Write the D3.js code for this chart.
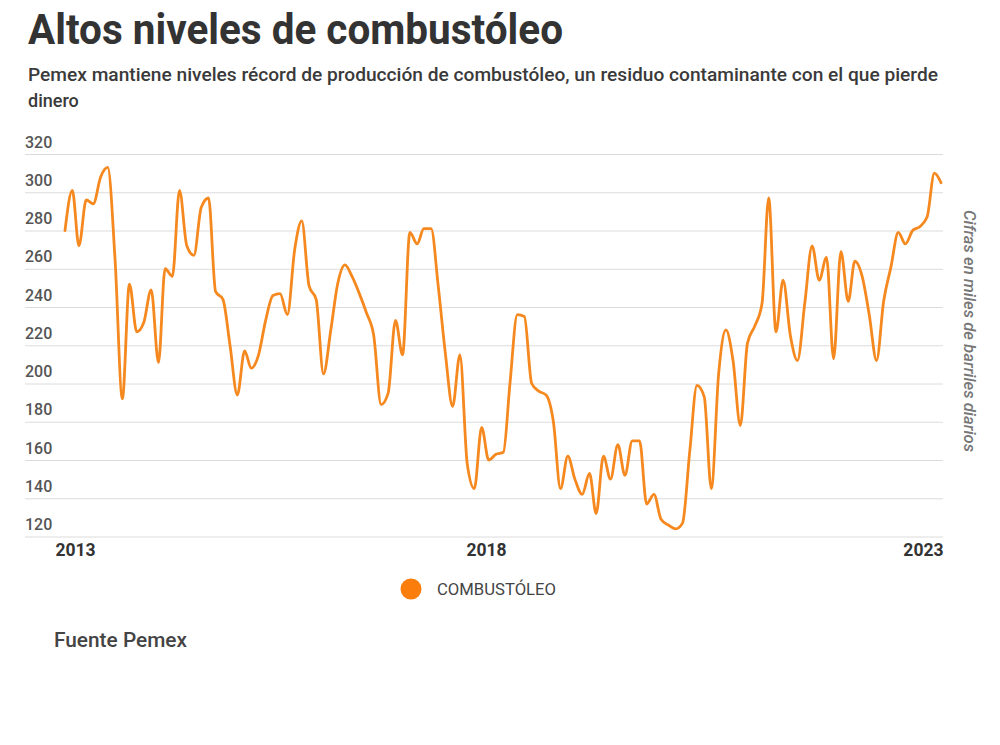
<!DOCTYPE html>
<html><head><meta charset="utf-8">
<script src="https://cdn.jsdelivr.net/npm/d3@7/dist/d3.min.js"></script>
<style>
body{margin:0;background:#fff;}
svg{display:block;font-family:Roboto,"Noto Sans",sans-serif;}
</style>
</head><body>
<svg id="chart" width="1000" height="745"></svg>
<script>
// ---- data ----
const title = "Altos niveles de combustóleo";
const subtitleLines = ["Pemex mantiene niveles récord de producción de combustóleo, un residuo contaminante con el que pierde", "dinero"];
const seriesName = "COMBUSTÓLEO";
const yAxisNote = "Cifras en miles de barriles diarios";
const source = "Fuente Pemex";
const firstMonth = "2013-01";  // monthly series, Jan 2013 – Mar 2023
const values = [
  280,301,272,296,294,308,313,265,192,252,227,232,   // 2013
  249,211,260,256,301,272,267,292,297,248,244,220,   // 2014
  194,217,208,215,233,246,247,236,270,285,251,244,   // 2015
  205,228,252,262,256,247,237,225,189,195,233,215,   // 2016
  279,273,281,281,251,215,188,215,158,145,177,160,   // 2017
  163,164,200,236,235,200,196,194,180,145,162,150,   // 2018
  142,153,132,162,150,168,152,170,170,137,142,129,   // 2019
  126,124,127,165,199,193,145,205,228,212,178,221,   // 2020
  230,242,297,227,254,225,212,242,272,254,266,213,   // 2021
  269,243,264,256,236,212,243,261,279,273,280,282,   // 2022
  287,310,305                                        // 2023
];
const yTicks = [120,140,160,180,200,220,240,260,280,300,320];
const xTickYears = [2013, 2018, 2023];

// ---- drawing ----
const svg = d3.select("#chart");
const parseMonth = d3.timeParse("%Y-%m");
const start = parseMonth(firstMonth);
const data = values.map((v, i) => ({date: d3.timeMonth.offset(start, i), value: v}));

const gridLeft = 25, gridRight = 943;
const x = d3.scaleTime()
  .domain(d3.extent(data, d => d.date))
  .range([65, 941]);
const y = d3.scaleLinear().domain([120, 320]).range([536.5, 154]);

// title
svg.append("text")
  .attr("x", 28).attr("y", 44)
  .attr("font-size", 42).attr("font-weight", 700).attr("fill", "#333")
  .attr("textLength", 535).attr("lengthAdjust", "spacingAndGlyphs")
  .text(title);

svg.selectAll("text.sub").data(subtitleLines).join("text")
  .attr("class", "sub")
  .attr("x", 28).attr("y", (d, i) => 81 + i * 26)
  .attr("font-size", 18).attr("font-weight", 500).attr("fill", "#3a3a3a")
  .each(function(d, i){ if (i === 0) d3.select(this).attr("textLength", 910).attr("lengthAdjust", "spacingAndGlyphs"); })
  .text(d => d);

// y grid + labels
const yAxis = svg.append("g")
  .attr("transform", `translate(${gridLeft},0)`)
  .call(d3.axisRight(y).tickValues(yTicks).tickSize(gridRight - gridLeft).tickFormat(d3.format("d")));
yAxis.select(".domain").remove();
yAxis.selectAll(".tick line").attr("stroke", "#dcdcdc").attr("stroke-width", 1);
yAxis.selectAll(".tick text")
  .attr("x", 0).attr("dy", -7).attr("text-anchor", "start")
  .attr("font-family", "Roboto, sans-serif")
  .attr("font-size", 16).attr("font-weight", 500).attr("fill", "#555");

// x labels
const xAxis = svg.append("g")
  .attr("transform", "translate(0,535)")
  .call(d3.axisBottom(x)
    .tickValues(xTickYears.map(yr => new Date(yr, 0, 1)))
    .tickSize(0)
    .tickFormat(d3.timeFormat("%Y")));
xAxis.select(".domain").remove();
xAxis.selectAll(".tick text")
  .attr("font-family", "Roboto, sans-serif")
  .attr("font-size", 17.5).attr("font-weight", 700).attr("fill", "#333")
  .attr("dy", "1.05em")
  .attr("text-anchor", (d, i, n) => i === 0 ? "start" : (i === n.length - 1 ? "end" : "middle"))
  .attr("dx", (d, i, n) => i === 0 ? -10 : (i === n.length - 1 ? (gridRight - x(d)) : -10));

// line
const line = d3.line().x(d => x(d.date)).y(d => y(d.value)).curve(d3.curveMonotoneX);
svg.append("path").datum(data)
  .attr("d", line)
  .attr("fill", "none")
  .attr("stroke", "#f5891f")
  .attr("stroke-width", 2.8)
  .attr("stroke-linejoin", "round")
  .attr("stroke-linecap", "round");

// right axis note
svg.append("text")
  .attr("transform", "translate(964,331) rotate(90)")
  .attr("text-anchor", "middle")
  .attr("font-size", 16.5).attr("font-style", "italic").attr("font-weight", 500).attr("fill", "#777")
  .attr("textLength", 242).attr("lengthAdjust", "spacingAndGlyphs")
  .text(yAxisNote);

// legend
const lg = svg.append("g").attr("transform", "translate(411,589)");
lg.append("circle").attr("r", 10.5).attr("fill", "#fb7d0b");
lg.append("text").attr("x", 26).attr("dy", "0.36em")
  .attr("font-size", 16).attr("fill", "#444")
  .attr("textLength", 119).attr("lengthAdjust", "spacingAndGlyphs")
  .text(seriesName);

// source
svg.append("text")
  .attr("x", 54).attr("y", 647)
  .attr("font-size", 20).attr("font-weight", 500).attr("fill", "#444")
  .attr("textLength", 133).attr("lengthAdjust", "spacingAndGlyphs")
  .text(source);
</script>
</body></html>
